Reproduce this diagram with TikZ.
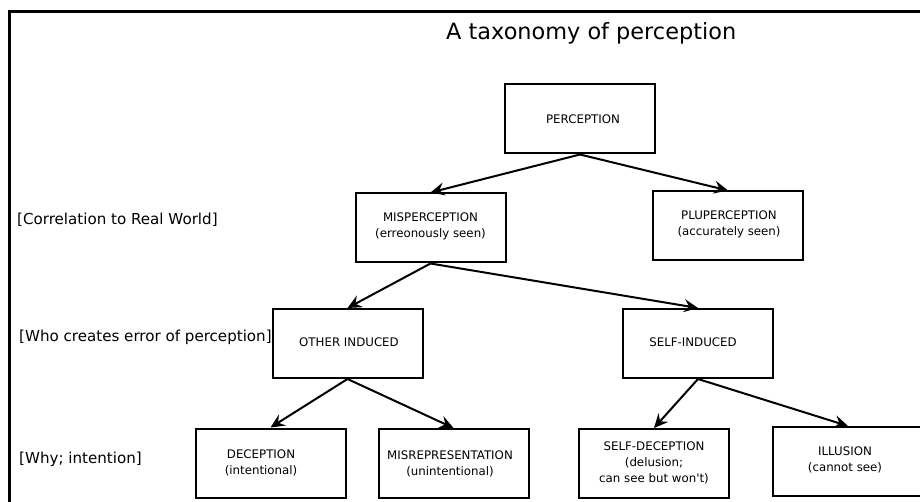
\documentclass[tikz,border=0pt]{standalone}
\usepackage{fontspec}
\setmainfont{DejaVu Sans}
\usetikzlibrary{arrows.meta}
\begin{document}
\begin{tikzpicture}[x=1pt,y=-1pt,
  box/.style={draw,line width=2pt,minimum width=150pt,minimum height=69pt,inner sep=0pt},
  boxtext/.style={align=center,font=\fontsize{11.8}{16}\selectfont,inner sep=0pt},
  level/.style={anchor=base west,font=\fontsize{15.1}{18}\selectfont,inner sep=0pt},
  link/.style={line width=2pt,-{Stealth[length=14pt,width=13pt,inset=5pt]}}]
\clip (0,0) rectangle (920,502);
\fill[white] (0,0) rectangle (920,502);
% outer frame (left and top edges visible)
\draw[line width=3.5pt] (9.5,540) -- (9.5,11.5) -- (960,11.5);

% title
\node[anchor=base west,font=\fontsize{22.4}{26}\selectfont,inner sep=0pt] (title) at (446,40) {A taxonomy of perception};

% level captions
\node[level] (lvlA) at (17,225) {[Correlation to Real World]};
\node[level] (lvlB) at (19,341) {[Who creates error of perception]};
\node[level] (lvlC) at (19,463) {[Why; intention]};

% boxes
\node[box] (perc)   at (580,119)   {};
\node[box] (mis)    at (430.5,228) {};
\node[box] (plu)    at (728,226)   {};
\node[box] (oth)    at (347.5,343.5) {};
\node[box] (self)   at (698,343.5) {};
\node[box] (dec)    at (270.5,463) {};
\node[box] (misrep) at (453.5,463.5) {};
\node[box] (sdec)   at (654,463.5) {};
\node[box] (ill)    at (848,461.5) {};

% box labels
\node[boxtext] (percT)   at (583,119)   {PERCEPTION};
\node[boxtext] (misT)    at (430.5,226) {MISPERCEPTION\\(erreonously seen)};
\node[boxtext] (pluT)    at (729,224)   {PLUPERCEPTION\\(accurately seen)};
\node[boxtext] (othT)    at (349,342)   {OTHER INDUCED};
\node[boxtext] (selfT)   at (693,342)   {SELF-INDUCED};
\node[boxtext] (decT)    at (261,463)   {DECEPTION\\(intentional)};
\node[boxtext] (misrepT) at (450,464)   {MISREPRESENTATION\\(unintentional)};
\node[boxtext] (sdecT)   at (654,463)   {SELF-DECEPTION\\(delusion;\\can see but won\textquotesingle t)};
\node[boxtext] (illT)    at (845,460)   {ILLUSION\\(cannot see)};

% connectors
\draw[link] (perc.south) -- (mis.north);
\draw[link] (perc.south) -- (plu.north);
\draw[link] (mis.south)  -- (oth.north);
\draw[link] (mis.south)  -- (self.north);
\draw[link] (oth.south)  -- (dec.north);
\draw[link] (oth.south)  -- (misrep.north);
\draw[link] (self.south) -- (sdec.north);
\draw[link] (self.south) -- (ill.north);
\end{tikzpicture}
\end{document}
